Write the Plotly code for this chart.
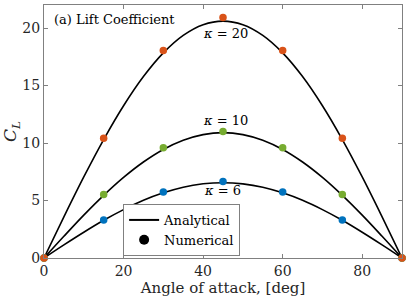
import plotly.graph_objects as go

# Numerical points
alpha_num = [0, 15, 30, 45, 60, 75, 90]
cl_num_k6 = [0, 3.31, 5.75, 6.65, 5.75, 3.31, 0]
cl_num_k10 = [0, 5.53, 9.58, 10.99, 9.58, 5.53, 0]
cl_num_k20 = [0, 10.41, 18.05, 20.92, 18.05, 10.41, 0]

# Analytical curves
alpha_an = [0, 5, 10, 15, 20, 25, 30, 35, 40, 45, 50, 55, 60, 65, 70, 75, 80, 85, 90]
cl_an_k6 = [0, 1.14, 2.24, 3.28, 4.21, 5.02, 5.67, 6.16, 6.45, 6.55, 6.45, 6.16, 5.67, 5.02, 4.21, 3.28, 2.24, 1.14, 0]
cl_an_k10 = [0, 1.89, 3.73, 5.45, 7.01, 8.35, 9.44, 10.24, 10.73, 10.9, 10.73, 10.24, 9.44, 8.35, 7.01, 5.45, 3.73, 1.89, 0]
cl_an_k20 = [0, 3.58, 7.05, 10.3, 13.24, 15.78, 17.84, 19.36, 20.29, 20.6, 20.29, 19.36, 17.84, 15.78, 13.24, 10.3, 7.05, 3.58, 0]

kappa_labels = ["<i>κ</i> = 6", "<i>κ</i> = 10", "<i>κ</i> = 20"]
kappa_label_x = [44.8, 45.7, 45.7]
kappa_label_y = [5.84, 12.0, 19.5]

xticks = [0, 20, 40, 60, 80]
yticks = [0, 5, 10, 15, 20]

colors = ["#0072BD", "#77AC30", "#D95319"]
FONT = "DejaVu Serif"

fig = go.Figure()
for y in [cl_an_k6, cl_an_k10, cl_an_k20]:
    fig.add_trace(go.Scatter(x=alpha_an, y=y, mode="lines", line=dict(color="black", width=1.6, shape="spline"),
                             showlegend=False, hoverinfo="skip"))
for y, c in zip([cl_num_k6, cl_num_k10, cl_num_k20], colors):
    fig.add_trace(go.Scatter(x=alpha_num, y=y, mode="markers", marker=dict(color=c, size=7.5),
                             showlegend=False, cliponaxis=False))

# legend entries
fig.add_trace(go.Scatter(x=[None], y=[None], mode="lines", line=dict(color="black", width=2), name="Analytical"))
fig.add_trace(go.Scatter(x=[None], y=[None], mode="markers", marker=dict(color="black", size=10), name="Numerical"))

for t, x, y in zip(kappa_labels, kappa_label_x, kappa_label_y):
    fig.add_annotation(x=x, y=y, text=t, showarrow=False, font=dict(family=FONT, size=13, color="black"))

fig.add_annotation(x=0.023, y=0.942, xref="paper", yref="paper", text="(a) Lift Coefficient", showarrow=False,
                   xanchor="left", yanchor="middle", font=dict(family=FONT, size=13, color="black"))

axis_common = dict(showline=True, linecolor="#808080", linewidth=1, mirror="ticks", ticks="inside",
                   ticklen=4, tickcolor="#808080", showgrid=False, zeroline=False,
                   tickfont=dict(family=FONT, size=14, color="#262626"))
fig.update_xaxes(range=[0, 90], tickvals=xticks, **axis_common,
                 title=dict(text="Angle of attack, [deg]", font=dict(family=FONT, size=15, color="#262626"), standoff=4))
fig.update_yaxes(range=[0, 22], tickvals=yticks, **axis_common,
                 title=dict(text="<i>C<sub>L</sub></i>", font=dict(family=FONT, size=17, color="#262626"), standoff=6))

fig.update_layout(
    width=407, height=305,
    margin=dict(l=43, r=4, t=5, b=47),
    plot_bgcolor="white", paper_bgcolor="white",
    font=dict(family=FONT),
    legend=dict(x=0.221, y=0.008, xanchor="left", yanchor="bottom", bgcolor="white",
                bordercolor="#808080", borderwidth=1, font=dict(family=FONT, size=13, color="black"),
                tracegroupgap=0, itemsizing="trace"),
)

fig.write_html("out.html", config={"displayModeBar": False},
               post_script="document.body.style.margin='0';")
